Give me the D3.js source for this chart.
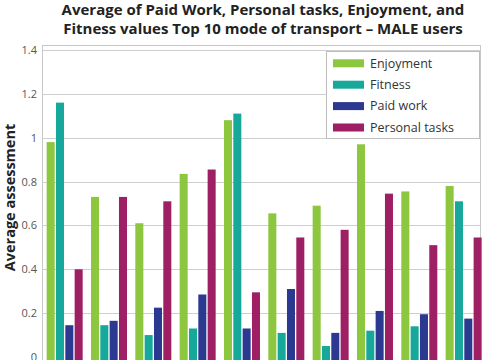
<!DOCTYPE html>
<html><head><meta charset="utf-8">
<script src="https://cdn.jsdelivr.net/npm/d3@7"></script>
<style>
html,body{margin:0;padding:0;background:#fff;overflow:hidden}
text{font-family:"Open Sans",sans-serif}
</style></head>
<body><svg id="c" width="485" height="360"></svg>
<script>
const categories = ["Mode 1","Mode 2","Mode 3","Mode 4","Mode 5","Mode 6","Mode 7","Mode 8","Mode 9","Mode 10"];
const seriesNames = ["Enjoyment","Fitness","Paid work","Personal tasks"];
const enjoyment = [0.98,0.73,0.61,0.835,1.08,0.655,0.69,0.97,0.755,0.78];
const fitness   = [1.16,0.145,0.10,0.13,1.11,0.11,0.05,0.12,0.14,0.71];
const paidWork  = [0.145,0.165,0.225,0.285,0.13,0.31,0.11,0.21,0.195,0.175];
const personal  = [0.40,0.73,0.71,0.855,0.295,0.545,0.58,0.745,0.51,0.545];
const yTicks = [0,0.2,0.4,0.6,0.8,1,1.2,1.4];
const colors = ["#8dc63f","#16a89b","#2b3990","#9e1f63"];
const values = [enjoyment, fitness, paidWork, personal];

const svg = d3.select("#c");
const y = d3.scaleLinear().domain([0,1.4]).range([357,50]);
const x0 = d3.scaleBand().domain(categories).range([42.5,485.8]).paddingInner(0.188).paddingOuter(0.094);
const x1 = d3.scaleBand().domain(seriesNames).range([0,x0.bandwidth()]).paddingInner(0.14);

// frame
svg.append("rect").attr("x",42.5).attr("y",45.5).attr("width",438).attr("height",330)
  .attr("fill","none").attr("stroke","#c8c8c8").attr("stroke-width",1);

// gridlines
svg.append("g").selectAll("line").data(yTicks.filter(d=>d>0)).join("line")
  .attr("x1",42.5).attr("x2",480.5)
  .attr("y1",d=>Math.round(y(d))+0.5).attr("y2",d=>Math.round(y(d))+0.5)
  .attr("stroke","#cfcfcf").attr("stroke-width",1);

// y axis labels
const yAxis = d3.axisLeft(y).tickValues(yTicks).tickSize(0).tickPadding(5).tickFormat(d3.format("~g"));
const ga = svg.append("g").attr("transform","translate(42,0)").call(yAxis);
ga.select(".domain").remove();
ga.selectAll("text").attr("fill","#555").style("font-size","11px").style("font-family","Open Sans");

// bars
const g = svg.append("g");
categories.forEach((c,i)=>{
  seriesNames.forEach((s,j)=>{
    g.append("rect")
      .attr("x",x0(c)+x1(s)).attr("width",x1.bandwidth())
      .attr("y",y(values[j][i])).attr("height",y(0)-y(values[j][i])+10)
      .attr("fill",colors[j]);
  });
});

// legend
const lg = svg.append("g");
lg.append("rect").attr("x",326.5).attr("y",51.5).attr("width",153).attr("height",87)
  .attr("fill","#fff").attr("stroke","#bdbdbd");
seriesNames.forEach((s,j)=>{
  const cy = 63.3 + j*21.4;
  lg.append("rect").attr("x",333).attr("y",cy-4).attr("width",31).attr("height",8).attr("fill",colors[j]);
  lg.append("text").attr("x",370).attr("y",cy).attr("dy","0.35em")
    .style("font-size","12.5px").attr("fill","#333").text(s);
});

// title
const t = svg.append("text").attr("x",263).attr("text-anchor","middle")
  .style("font-size","15px").style("font-weight","bold").attr("fill","#222");
t.append("tspan").attr("x",263).attr("y",15).text("Average of Paid Work, Personal tasks, Enjoyment, and");
t.append("tspan").attr("x",263).attr("y",34).text("Fitness values Top 10 mode of transport – MALE users");

// y label
svg.append("text").attr("transform","translate(15,197.5) rotate(-90)").attr("text-anchor","middle")
  .style("font-size","14.5px").style("font-weight","bold").attr("fill","#222").text("Average assessment");
</script></body></html>
